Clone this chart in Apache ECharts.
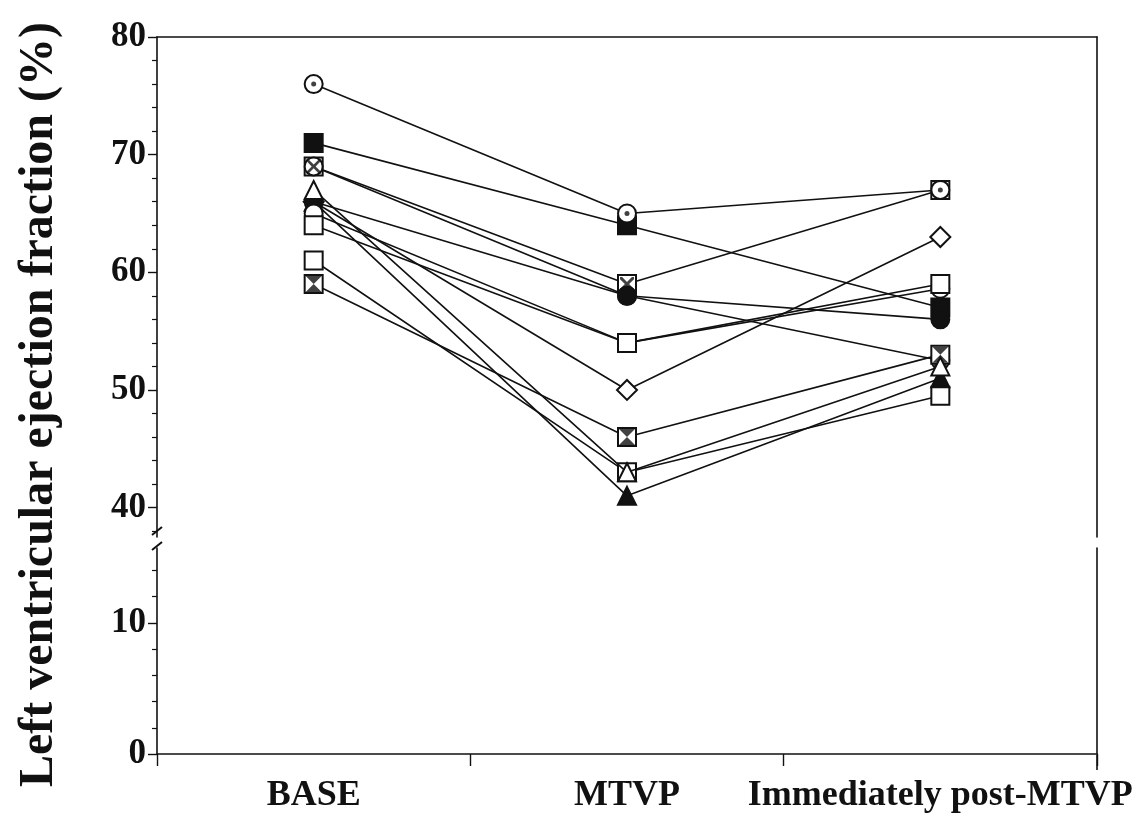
<!DOCTYPE html>
<html><head><meta charset="utf-8">
<script src="https://cdn.jsdelivr.net/npm/echarts@6/dist/echarts.min.js"></script>
<style>html,body{margin:0;padding:0;background:#fff}#c{width:1139px;height:814px}</style>
</head><body><div id="c"></div>
<script>
// ---- data ----
const categories = ['BASE', 'MTVP', 'Immediately post-MTVP'];
const upperTicks = [40, 50, 60, 70, 80];
const upperMinor = [38, 42, 44, 46, 48, 52, 54, 56, 58, 62, 64, 66, 68, 72, 74, 76, 78];
const lowerTicks = [0, 10];
const lowerMinor = [2, 4, 6, 8, 12, 14];
const yTitle = 'Left ventricular ejection fraction (%)';

const p1 = [76, 65, 67];
const p2 = [71, 64, 57];
const p3 = [69, 59, 67];
const p4 = [66, 58, 56];
const p5 = [69, 58, 52.5];
const p6 = [64, 54, 59];
const p7 = [66, 50, 63];
const p8 = [59, 46, 53];
const p9 = [61, 43, 49.5];
const p10 = [67, 43, 52];
const p11 = [66, 41, 51];
const p12 = [65, 54, 58.6];

// ---- styles (listed bottom-most first) ----
const BLK = '#111';
const hourglass = 'path://M0,0 L20,0 L10,10 Z M0,20 L20,20 L10,10 Z';
const xcross = 'path://M0,0 L3,0 L10,7 L17,0 L20,0 L20,3 L13,10 L20,17 L20,20 L17,20 L10,13 L3,20 L0,20 L0,17 L7,10 L0,3 Z';
const patients = [
  { d: p7, sym: 'diamond', fill: '#fff', size: 20 },
  { d: p9, sym: 'rect', fill: '#fff' },
  { d: p11, sym: 'triangle', fill: BLK },
  { d: p2, sym: 'rect', fill: BLK },
  { d: p3, sym: 'rect', fill: '#fff', deco: xcross, decoSize: 14 },
  { d: p5, sym: 'circle', fill: '#fff', deco: xcross, decoSize: 13 },
  { d: p8, sym: 'rect', fill: '#fff', deco: hourglass, decoSize: 16 },
  { d: p4, sym: 'circle', fill: BLK },
  { d: p12, sym: 'circle', fill: '#fff' },
  { d: p6, sym: 'rect', fill: '#fff' },
  { d: p10, sym: 'triangle', fill: '#fff' },
  { d: p1, sym: 'circle', fill: '#fff', deco: 'circle', decoSize: 5 }
];

const font = 'Liberation Serif, Times New Roman, serif';
const series = [];
patients.forEach((p, i) => {
  series.push({
    type: 'line', xAxisIndex: 0, yAxisIndex: 0, data: p.d,
    symbol: p.sym, symbolSize: p.size || 18, z: 2 + i * 2,
    lineStyle: { color: BLK, width: 1.6 },
    itemStyle: { color: p.fill, borderColor: BLK, borderWidth: 2 },
    emphasis: { disabled: true }, animation: false
  });
  if (p.deco) {
    series.push({
      type: 'scatter', xAxisIndex: 0, yAxisIndex: 0, data: p.d,
      symbol: p.deco, symbolSize: p.decoSize, z: 3 + i * 2,
      itemStyle: { color: BLK }, silent: true, animation: false
    });
  }
});

const yLabel = { color: BLK, fontFamily: font, fontWeight: 'bold', fontSize: 35 };
const xLabel = { color: BLK, fontFamily: font, fontWeight: 'bold', fontSize: 36 };
const option = {
  backgroundColor: '#fff',
  animation: false,
  grid: [
    { left: 157, right: 42, top: 37, height: 500 },
    { left: 157, right: 42, top: 548, height: 207 }
  ],
  xAxis: [
    { gridIndex: 0, type: 'category', data: categories, position: 'top', boundaryGap: true,
      axisLine: { lineStyle: { color: BLK, width: 1.6 } }, axisTick: { show: false }, axisLabel: { show: false } },
    { gridIndex: 1, type: 'category', data: categories, position: 'bottom', boundaryGap: true,
      axisLine: { lineStyle: { color: BLK, width: 1.6 } },
      axisTick: { show: true, length: 12, lineStyle: { color: BLK, width: 1.4 } },
      axisLabel: Object.assign({ margin: 24, interval: 0 }, xLabel) }
  ],
  yAxis: [
    { gridIndex: 0, type: 'value', min: 37.5, max: 80, position: 'left',
      axisLine: { show: true, lineStyle: { color: BLK, width: 1.6 } },
      axisTick: { show: true, length: 9, customValues: upperTicks, lineStyle: { color: BLK, width: 1.4 } },
      axisLabel: Object.assign({ customValues: upperTicks, margin: 11 }, yLabel),
      splitLine: { show: false } },
    { gridIndex: 0, type: 'value', min: 37.5, max: 80, position: 'left',
      axisLine: { show: false },
      axisTick: { show: true, length: 5, customValues: upperMinor, lineStyle: { color: BLK, width: 1.2 } },
      axisLabel: { show: false }, splitLine: { show: false } },
    { gridIndex: 0, type: 'value', min: 37.5, max: 80, position: 'right',
      axisLine: { show: true, lineStyle: { color: BLK, width: 1.6 } },
      axisTick: { show: false }, axisLabel: { show: false }, splitLine: { show: false } },
    { gridIndex: 1, type: 'value', min: 0, max: 15.7, position: 'left',
      axisLine: { show: true, lineStyle: { color: BLK, width: 1.6 } },
      axisTick: { show: true, length: 9, customValues: lowerTicks, lineStyle: { color: BLK, width: 1.4 } },
      axisLabel: Object.assign({ customValues: lowerTicks, margin: 11 }, yLabel),
      splitLine: { show: false } },
    { gridIndex: 1, type: 'value', min: 0, max: 15.7, position: 'left',
      axisLine: { show: false },
      axisTick: { show: true, length: 5, customValues: lowerMinor, lineStyle: { color: BLK, width: 1.2 } },
      axisLabel: { show: false }, splitLine: { show: false } },
    { gridIndex: 1, type: 'value', min: 0, max: 15.7, position: 'right',
      axisLine: { show: true, lineStyle: { color: BLK, width: 1.6 } },
      axisTick: { show: false }, axisLabel: { show: false }, splitLine: { show: false } }
  ],
  graphic: [
    { type: 'text', x: 16, y: 22, rotation: Math.PI / 2, originX: 0, originY: 0, z: 100,
      style: { text: yTitle, fill: BLK, font: 'bold 48px ' + font, align: 'right', verticalAlign: 'top' } },
    { type: 'line', shape: { x1: 152, y1: 535, x2: 162, y2: 527 }, style: { stroke: BLK, lineWidth: 2 } },
    { type: 'line', shape: { x1: 152, y1: 550, x2: 162, y2: 542 }, style: { stroke: BLK, lineWidth: 2 } },
    { type: 'line', shape: { x1: 1097, y1: 755, x2: 1097, y2: 770 }, style: { stroke: BLK, lineWidth: 1.6 } }
  ],
  series: series
};
const chart = echarts.init(document.getElementById('c'), null, { renderer: 'canvas' });
chart.setOption(option);
</script></body></html>
